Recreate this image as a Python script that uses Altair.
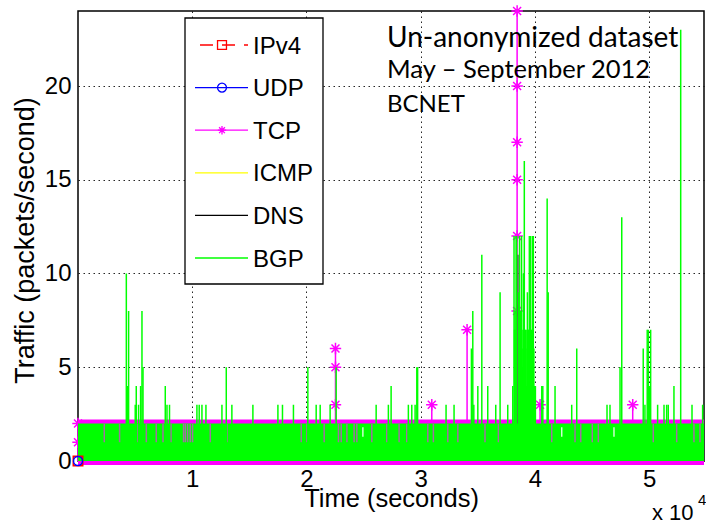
import altair as alt
import pandas as pd

# ---------------------------------------------------------------- data
X_MAX = 54800          # seconds covered by the trace
Y_MAX = 24             # packets/second

series_names = ["IPv4", "UDP", "TCP", "ICMP", "DNS", "BGP"]
series_colors = ["#ff0000", "#0000ff", "#ff00ff", "#ffff00", "#000000", "#00ff00"]

x_tick_values = [10000, 20000, 30000, 40000, 50000]
y_tick_values = [0, 5, 10, 15, 20]

# IPv4 / UDP only register at the very start of the trace
ipv4_t, ipv4_v = [0], [0]
udp_t, udp_v = [0], [0]

# TCP: packets sit on the 0 and 2 levels for the whole trace
tcp_levels = [0, 2]
# TCP excursions above the usual level (time, peak)
tcp_spike_t = [0, 22540, 30970, 34060, 38440, 40450, 48560]
tcp_spike_peak = [2, 6, 3, 7, 24, 3, 3]
# sampled TCP points drawn with star markers
tcp_marker_t = [0, 0, 22540, 22540, 22540, 30970, 34060,
                38440, 38440, 38440, 38440, 38440, 38440, 40450, 48560]
tcp_marker_v = [2, 1, 6, 5, 3, 3, 7,
                24, 20, 17, 15, 12, 8, 3, 3]

# DNS burst
dns_t, dns_v = [38520], [11]

# BGP: dense 0-2 packets/s background
bgp_floor_level = 2
# moments where BGP drops to 1 packet/s (other series show through)
bgp_dip_t = [2300, 3640, 5230, 5980, 6850, 7440, 8140, 9240, 9390, 9590,
             9830, 10030, 11580, 13040, 19540, 20040, 21550, 22800, 23040,
             23540, 24170, 24410, 25720, 27030, 28110, 28780, 30620, 31110,
             32370, 33250, 35630, 36800, 41470, 43510, 44010, 45020, 45550,
             50360, 52410, 53920, 54450]
# short silent gaps inside the background
bgp_gap_t = [24940, 42350, 46920]
# BGP bursts (time, packets/second)
bgp_spike_t = [4230, 4340, 4430, 5010, 5100, 5300, 5480, 5600, 5690, 7640,
               7790, 8010, 10410, 10610, 10850, 11200, 12600, 12980, 13470,
               15310, 17500, 17900, 18860, 20120, 20850, 21200, 22070, 22600,
               26100, 27170, 27410, 28920, 29220, 29510, 29660, 29730, 32220,
               32920, 34440, 34560, 34650, 35000, 35350, 35870, 36570, 36950,
               37620, 38060,
               38170, 38215, 38260, 38305, 38350, 38400, 38570, 38610, 38650,
               38695, 38740, 38785, 38830, 38875, 38920, 38955, 38990, 39030,
               39070, 39115, 39160, 39205, 39250, 39295, 39340, 39380, 39420,
               39465, 39510, 39555, 39600, 39645, 39690, 39730, 39770, 39815,
               39860, 39905, 39950, 39995, 40040,
               40600, 40690, 41070, 41160, 41760, 43220, 43660, 46310, 46570,
               47450, 47600, 49480, 49630, 49830, 49920, 50030, 50130, 50740,
               51300, 51530, 51670, 52170, 52760, 53750, 54680]
bgp_spike_v = [10, 4, 8, 3, 4, 3, 4, 8, 5, 4,
               3, 3, 3, 3, 3, 3, 3, 5, 3,
               3, 3, 3, 3, 5, 3, 3, 3, 5,
               3, 3, 4, 3, 3, 3, 5, 5, 3,
               3, 6, 8, 3, 4, 11, 4, 3, 9,
               3, 4,
               12, 7, 8, 7, 12, 12, 9, 7, 12,
               7, 8, 7, 12, 6, 5, 7, 10, 7,
               16, 7, 7, 6, 4, 7, 9, 6, 7,
               7, 12, 7, 12, 7, 7, 6, 12, 7,
               12, 6, 4, 4, 4,
               4, 4, 14, 9, 4, 3, 6, 3, 3,
               5, 13, 6, 3, 7, 7, 4, 7, 3,
               3, 3, 3, 4, 23, 3, 3]

annotation_lines = ["Un-anonymized dataset", "May \u2013 September 2012", "BCNET"]

# ---------------------------------------------------------------- styling
FONT = "Liberation Sans"
STAR = "M-1,0L1,0M0,-1L0,1M-0.7,-0.7L0.7,0.7M-0.7,0.7L0.7,-0.7"
MAUVE = "#a070a0"
PLOT_W, PLOT_H = 626, 450

xs = alt.Scale(domain=[0, X_MAX], nice=False, zero=False)
ys = alt.Scale(domain=[0, Y_MAX], nice=False)

X = alt.X("t:Q", scale=xs, axis=alt.Axis(
    values=x_tick_values, labelExpr="datum.value / 10000",
    title="Time (seconds)", grid=True, ticks=False, domain=False,
    labelPadding=6, labelFontSize=24, titleFontSize=25.5,
    titleFontWeight="normal", titleY=45, titleBaseline="alphabetic",
    labelOverlap=False))
Y = alt.Y("v:Q", scale=ys, axis=alt.Axis(
    values=y_tick_values, title="Traffic (packets/second)", grid=True,
    ticks=False, domain=False, labelPadding=7, labelFontSize=24,
    titleFontSize=27, titleFontWeight="normal", titleAngle=270,
    titleX=-53, titleY=229, titleAlign="center", titleBaseline="middle",
    labelOverlap=False))

layers = []

# TCP level bands (dense star markers merge into thick bands)
tcp_level_df = pd.DataFrame({"t": [0] * len(tcp_levels),
                             "t2": [X_MAX] * len(tcp_levels),
                             "v": tcp_levels})
layers.append(alt.Chart(tcp_level_df).mark_rule(color="#ff00ff", strokeWidth=8)
              .encode(x=X, x2="t2:Q", y=Y))

# TCP spikes and markers
tcp_spike_df = pd.DataFrame({"t": tcp_spike_t, "v": tcp_spike_peak,
                             "v0": [0] * len(tcp_spike_t)})
layers.append(alt.Chart(tcp_spike_df).mark_rule(color="#ff00ff", strokeWidth=1.5)
              .encode(x=X, y=Y, y2="v0:Q"))
tcp_marker_df = pd.DataFrame({"t": tcp_marker_t, "v": tcp_marker_v})
layers.append(alt.Chart(tcp_marker_df).mark_point(
    shape=STAR, size=130, filled=False, color="#ff00ff", strokeWidth=1.5, opacity=1)
    .encode(x=X, y=Y))

# DNS
dns_df = pd.DataFrame({"t": dns_t, "v": dns_v, "v0": [0] * len(dns_t)})
layers.append(alt.Chart(dns_df).mark_rule(color="#333333", strokeWidth=1.2)
              .encode(x=X, y=Y, y2="v0:Q"))

# BGP background band
bgp_floor_df = pd.DataFrame({"t": [0], "t2": [X_MAX], "v": [bgp_floor_level], "v0": [0]})
layers.append(alt.Chart(bgp_floor_df).mark_rect(color="#00ff00")
              .encode(x=X, x2="t2:Q", y=Y, y2="v0:Q"))

# BGP dips to 1 packet/s
dip_df = pd.DataFrame({"t": bgp_dip_t, "v": [2] * len(bgp_dip_t), "v0": [1] * len(bgp_dip_t)})
layers.append(alt.Chart(dip_df).mark_rule(color=MAUVE, strokeWidth=1.5)
              .encode(x=X, y=Y, y2="v0:Q"))
gap_df = pd.DataFrame({"t": bgp_gap_t, "v": [1.8] * len(bgp_gap_t), "v0": [1.3] * len(bgp_gap_t)})
layers.append(alt.Chart(gap_df).mark_rule(color="white", strokeWidth=1.2)
              .encode(x=X, y=Y, y2="v0:Q"))

# BGP bursts
bgp_spike_df = pd.DataFrame({"t": bgp_spike_t, "v": bgp_spike_v,
                             "v0": [0] * len(bgp_spike_t)})
layers.append(alt.Chart(bgp_spike_df).mark_rule(color="#00ff00", strokeWidth=1.5)
              .encode(x=X, y=Y, y2="v0:Q"))

# IPv4 / UDP start points
layers.append(alt.Chart(pd.DataFrame({"t": ipv4_t, "v": ipv4_v})).mark_point(
    shape="square", size=90, filled=False, color="#ff0000", strokeWidth=1.5, opacity=1)
    .encode(x=X, y=Y))
layers.append(alt.Chart(pd.DataFrame({"t": udp_t, "v": udp_v})).mark_point(
    shape="circle", size=80, filled=False, color="#0000ff", strokeWidth=1.5, opacity=1)
    .encode(x=X, y=Y))

# ---------------------------------------------------------------- legend box
LEG_L, LEG_T, LEG_R, LEG_B = 107, 7, 245, 273
LEG_ROW0, LEG_GAP = 34, 42.6
one = pd.DataFrame({"k": [0]})
layers.append(alt.Chart(one).mark_rect(fill="white", stroke="black", strokeWidth=1.3)
              .encode(x=alt.value(LEG_L), x2=alt.value(LEG_R),
                      y=alt.value(LEG_T), y2=alt.value(LEG_B)))

legend_markers = {"IPv4": ("square", 80), "UDP": ("circle", 80), "TCP": (STAR, 70)}
for i, (name, color) in enumerate(zip(series_names, series_colors)):
    yy = LEG_ROW0 + i * LEG_GAP
    row = pd.DataFrame({"name": [name]})
    line_kw = {"color": color, "strokeWidth": 1.3}
    x_start = 117
    if name == "IPv4":
        line_kw["strokeDash"] = [13, 9]
        x_start = 122
    layers.append(alt.Chart(row).mark_rule(**line_kw).encode(
        x=alt.value(x_start), x2=alt.value(170), y=alt.value(yy)))
    if name in legend_markers:
        shape, size = legend_markers[name]
        layers.append(alt.Chart(row).mark_point(
            shape=shape, size=size, filled=False, color=color, strokeWidth=1.3, opacity=1)
            .encode(x=alt.value(144), y=alt.value(yy)))
    layers.append(alt.Chart(row).mark_text(
        font=FONT, fontSize=24, color="black", align="left", baseline="alphabetic")
        .encode(x=alt.value(175), y=alt.value(yy + 8.5), text="name:N"))

# ---------------------------------------------------------------- annotation
ann_sizes = [28, 25.5, 24]
ann_baselines = [35.7, 67.3, 100.7]
for txt, fs, by in zip(annotation_lines, ann_sizes, ann_baselines):
    layers.append(alt.Chart(pd.DataFrame({"txt": [txt]})).mark_text(
        font="Lato", fontSize=fs, color="black", align="left", baseline="alphabetic")
        .encode(x=alt.value(309), y=alt.value(by), text="txt:N"))

# axis exponent  "x 10^4"
layers.append(alt.Chart(pd.DataFrame({"txt": ["x 10"]})).mark_text(
    font=FONT, fontSize=22, color="black", align="left", baseline="alphabetic")
    .encode(x=alt.value(574), y=alt.value(509), text="txt:N"))
layers.append(alt.Chart(pd.DataFrame({"txt": ["4"]})).mark_text(
    font=FONT, fontSize=15, color="black", align="left", baseline="alphabetic")
    .encode(x=alt.value(620), y=alt.value(494), text="txt:N"))

chart = alt.layer(*layers).properties(
    width=PLOT_W, height=PLOT_H,
    autosize=alt.AutoSizeParams(type="none"),
    padding={"left": 78, "top": 11, "right": 2, "bottom": 64},
).configure_view(stroke="black", strokeWidth=1.5).configure_axis(
    labelFont=FONT, titleFont=FONT, labelColor="black", titleColor="black",
    gridColor="black", gridDash=[1.5, 3.5], gridWidth=1, gridOpacity=0.85,
)

chart.save("out.html", embed_options={"renderer": "svg", "actions": False})
